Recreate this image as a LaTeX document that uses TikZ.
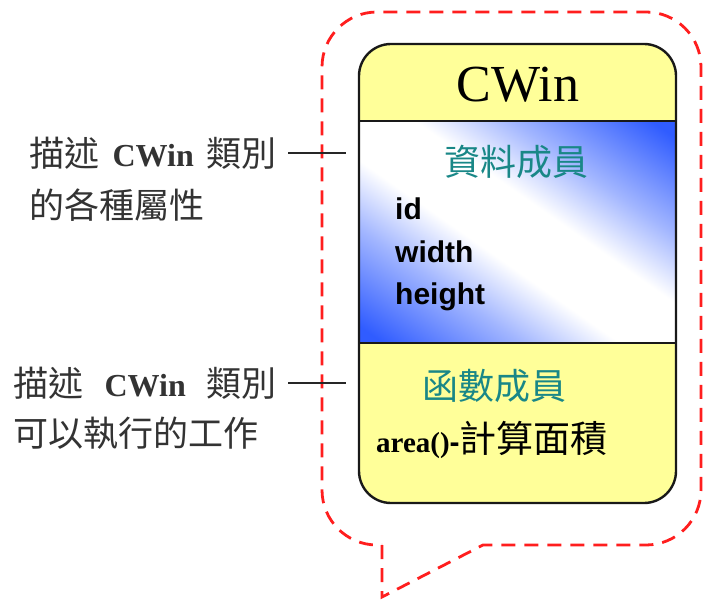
\documentclass[tikz,border=0pt]{standalone}
\usepackage{fontspec}
\setmainfont{Liberation Serif}
\newfontfamily\cjk{Noto Sans CJK TC}
\newfontfamily\arialfont{Liberation Sans}
\definecolor{calred}{RGB}{255,30,30}
\definecolor{boxyellow}{RGB}{255,255,153}
\definecolor{gradblue}{RGB}{48,92,255}
\definecolor{tealtext}{RGB}{25,135,135}
% blue at both ends, a white band through the middle
\pgfdeclareverticalshading{diagblue}{100bp}{%
  color(0bp)=(gradblue); color(29bp)=(gradblue); color(39bp)=(gradblue!45);
  color(46bp)=(white); color(54bp)=(white);
  color(61bp)=(gradblue!45); color(71bp)=(gradblue); color(100bp)=(gradblue)}
\begin{document}
\begin{tikzpicture}[x=1pt,y=-1pt,
  every node/.style={inner sep=0pt},
  calloutline/.style={draw=calred, line width=2.8pt, dash pattern=on 14pt off 9pt},
  lbl/.style={font=\cjk\fontsize{35}{42}\selectfont, text=black!80},
  conn/.style={draw=black!85, line width=2pt},
  sectitle/.style={font=\cjk\fontsize{36}{42}\selectfont, text=tealtext},
  member/.style={font=\arialfont\bfseries\fontsize{30}{36}\selectfont, anchor=base west},
  frame/.style={draw=black!90, line width=2.4pt, rounded corners=32pt}
]
\useasboundingbox (0,0) rectangle (704,604);

% speech-bubble outline around the class
\draw[calloutline] (382,545) -- (382,597) -- (483,545) [rounded corners=55pt]
  -- (701,545) -- (701,12) -- (322,12) -- (322,545) -- (382,545);

% class box: yellow body, shaded attribute section, separators, frame
\fill[boxyellow, rounded corners=32pt] (359,44) rectangle (676,503);
\begin{scope}
  \clip (359,121) rectangle (676,343);
  \shade[shading=diagblue, shading angle=-35] (317.5,32) rectangle (717.5,432);
\end{scope}
\draw[line width=2.2pt, black!90] (359,121) -- (676,121);
\draw[line width=2.2pt, black!90] (359,343) -- (676,343);
\draw[frame] (359,44) rectangle (676,503);

% class name
\node[font=\rmfamily\fontsize{52}{60}\selectfont, anchor=base] (cname) at (518,102) {CWin};

% data members
\node[sectitle] (datatitle) at (516,162) {資料成員};
\node[member] (mid) at (395,220) {id};
\node[member] (mwidth) at (395,262) {width};
\node[member] (mheight) at (395,304) {height};

% member functions
\node[sectitle] (functitle) at (494,386) {函數成員};
\node[anchor=base west] (marea) at (376,452)
  {{\rmfamily\bfseries\fontsize{29}{36}\selectfont area()}{\arialfont\bfseries\fontsize{30}{36}\selectfont -}{\cjk\fontsize{37}{42}\selectfont 計算面積}};

% side notes with leader lines
\node[lbl, anchor=east] (note1a) at (277,153) {描述\hspace{13pt}{\rmfamily\bfseries\fontsize{32}{38}\selectfont CWin}\hspace{13pt}類別};
\node[lbl, anchor=west] (note1b) at (29,205) {的各種屬性};
\node[lbl, anchor=east] (note2a) at (277,383) {描述\hspace{21pt}{\rmfamily\bfseries\fontsize{32}{38}\selectfont CWin}\hspace{21pt}類別};
\node[lbl, anchor=west] (note2b) at (13,433) {可以執行的工作};

\coordinate (tip1) at (346,153);
\coordinate (tip2) at (346,383);
\draw[conn] ([xshift=11pt]note1a.east) -- (tip1);
\draw[conn] ([xshift=11pt]note2a.east) -- (tip2);
\end{tikzpicture}
\end{document}
